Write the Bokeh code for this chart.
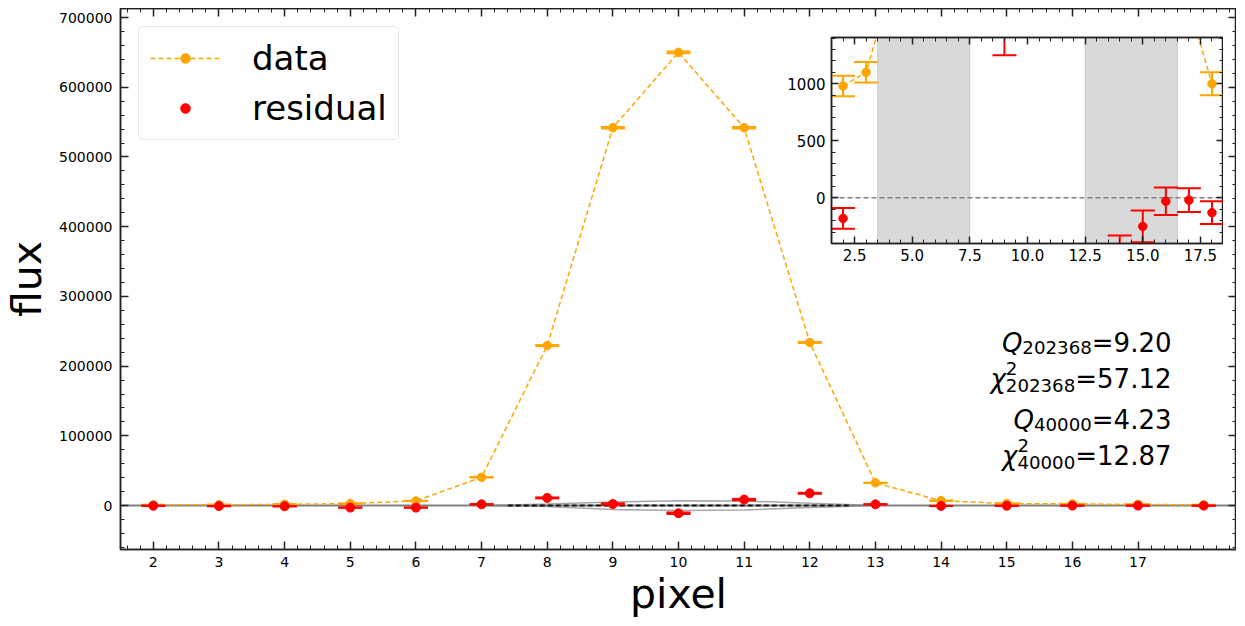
import numpy as np
from bokeh.plotting import figure
from bokeh.layouts import column
from bokeh.models import (Range1d, LinearAxis, FixedTicker, SingleIntervalTicker,
                          BasicTickFormatter, PrintfTickFormatter, CustomJSTickFormatter,
                          Span, BoxAnnotation, Legend, LegendItem, Label,
                          ColumnDataSource)
from bokeh.embed import file_html
from bokeh.resources import INLINE

# ---------------- data ----------------
pixel = [2, 3, 4, 5, 6, 7, 8, 9, 10, 11, 12, 13, 14, 15, 16, 17, 18]
flux = [980, 1100, 1800, 2900, 6700, 40600, 229500, 542000, 650000,
        542000, 234000, 32600, 7000, 2900, 2400, 1700, 1000]
flux_err = [90, 90, 100, 120, 150, 300, 700, 1000, 1200,
            1000, 700, 200, 150, 140, 120, 105, 100]
resid = [-180, -700, -1000, -2900, -2900, 1800, 11000, 2250, -11000,
         8600, 17600, 1800, -480, -250, -30, -20, -130]
resid_err = flux_err

env_x = [7, 8, 9, 10, 11, 12, 13]
env_hi = [0, 2200, 5300, 7000, 6600, 3200, 0]
env_lo = [0, -1500, -5800, -7000, -6200, -2900, 0]
model_x = [7.4, 12.6]
model_y = [0, 0]

x_major_ticks = [2, 3, 4, 5, 6, 7, 8, 9, 10, 11, 12, 13, 14, 15, 16, 17]
masked_lo = [3.5, 12.5]
masked_hi = [7.5, 16.5]

stat_sym = ["Q", "\u03c7", "Q", "\u03c7"]
stat_sup = ["", "2", "", "2"]
stat_sub = ["202368", "202368", "40000", "40000"]
stat_val = ["9.20", "57.12", "4.23", "12.87"]

# ---------------- style ----------------
FONT = "DejaVu Sans"
ORANGE = "#FFA500"
RED = "#FF0000"
DARK = "#222222"
RPAD = 7          # space taken by the label-less right axis
W, H = 1229 + RPAD, 612
LB = 114          # shared left border
IW, IH = 114 + 391 + RPAD, 5 + 206 + 22   # inset outer size
INSET_LEFT = 711  # offset of inset figure inside layout
INSET_TOP = 24
PAGE_TOP = 8


def style_axis(ax, major_in, minor_in, fs):
    ax.major_tick_in = major_in
    ax.major_tick_out = 0
    ax.minor_tick_in = minor_in
    ax.minor_tick_out = 0
    ax.axis_line_color = DARK
    ax.axis_line_width = 1.5
    ax.major_tick_line_color = DARK
    ax.major_tick_line_width = 1.5
    ax.minor_tick_line_color = DARK
    ax.minor_tick_line_width = 1
    ax.major_label_text_font = FONT
    ax.major_label_text_font_size = fs
    ax.major_label_text_color = "black"


def hidden_axis(ticker):
    return LinearAxis(ticker=ticker,
                      formatter=CustomJSTickFormatter(code="return ''"),
                      major_label_standoff=0,
                      major_label_text_font_size="0px")


def errorbars(fig, x, y, err, color, size):
    y = np.asarray(y, float)
    e = np.asarray(err, float)
    src = ColumnDataSource(dict(x=x, y=y, lo=y - e, hi=y + e))
    fig.segment(x0="x", y0="lo", x1="x", y1="hi", line_color=color,
                line_width=2, source=src)
    fig.scatter(x="x", y="lo", marker="dash", size=24, line_color=color,
                line_width=2, source=src)
    fig.scatter(x="x", y="hi", marker="dash", size=24, line_color=color,
                line_width=2, source=src)
    return fig.scatter(x="x", y="y", marker="circle", size=size,
                       fill_color=color, line_color=color, source=src)


# ---------------- main figure ----------------
p = figure(width=W, height=H,
           x_range=Range1d(1.5, 18.5), y_range=Range1d(-63000, 713000),
           output_backend="svg", toolbar_location=None,
           min_border_left=LB, min_border_right=0, min_border_top=0,
           min_border_bottom=71)
p.xgrid.visible = False
p.ygrid.visible = False
p.outline_line_color = DARK
p.outline_line_width = 1.5

x_minor = [round(v, 1) for v in np.arange(1.6, 18.45, 0.2)]
xt = FixedTicker(ticks=x_major_ticks, minor_ticks=x_minor)
yt = SingleIntervalTicker(interval=100000, num_minor_ticks=5)

xb = p.below[0]
yl = p.left[0]
xb.ticker = xt
yl.ticker = yt
yl.formatter = BasicTickFormatter(use_scientific=False)
top_ax = hidden_axis(xt)
right_ax = hidden_axis(yt)
p.add_layout(top_ax, "above")
p.add_layout(right_ax, "right")
for ax in (xb, yl, top_ax, right_ax):
    style_axis(ax, 8, 4, "14px")
top_ax.major_label_text_font_size = "0px"
right_ax.major_label_text_font_size = "0px"

xb.major_label_standoff = 7
yl.major_label_standoff = 8
xb.axis_label = "pixel"
yl.axis_label = "flux"
for ax in (xb, yl):
    ax.axis_label_text_font = FONT
    ax.axis_label_text_font_size = "41px"
    ax.axis_label_text_font_style = "normal"
    ax.axis_label_text_color = "black"
xb.axis_label_standoff = 0
yl.axis_label_standoff = 5

p.add_layout(Span(location=0, dimension="width", line_color="gray",
                  line_width=2, level="underlay"))
p.line(env_x, env_hi, line_color="gray", line_width=1.5, line_alpha=0.7)
p.line(env_x, env_lo, line_color="gray", line_width=1.5, line_alpha=0.7)
p.line(model_x, model_y, line_color="black", line_width=2, line_alpha=0.85,
       line_dash="5 3")

data_line = p.line(pixel, flux, line_color=ORANGE, line_width=1.5,
                   line_dash="5 3")
data_pts = errorbars(p, pixel, flux, flux_err, ORANGE, 8.5)
res_pts = errorbars(p, pixel, resid, resid_err, RED, 9)

legend = Legend(items=[LegendItem(label="data", renderers=[data_line, data_pts]),
                       LegendItem(label="residual", renderers=[res_pts])],
                location="top_left", margin=18, padding=11, spacing=10,
                glyph_width=70, glyph_height=24, label_height=40,
                label_standoff=32, label_text_font=FONT,
                label_text_font_size="34px", label_text_color="black",
                border_line_color="#cccccc", border_line_width=1,
                background_fill_alpha=0.8)
if "border_radius" in Legend.properties():
    legend.border_radius = 5
p.add_layout(legend)

# statistics text (right aligned, mathtext-like pieces)
adv = {d: 0.63623 for d in "0123456789"}
adv.update({"=": 0.83789, ".": 0.31787})


def tw(s, fs):
    return sum(adv[c] for c in s) * fs


FS, SFS = 26, 18.2
R = 1051
baselines = [207, 171, 130, 94]
for sym, sup, sub, val, yb in zip(stat_sym, stat_sup, stat_sub, stat_val, baselines):
    vtxt = "=" + val
    common = dict(x_units="screen", y_units="screen", text_font=FONT,
                  text_color="black", text_baseline="alphabetic")
    p.add_layout(Label(x=R, y=yb, text=vtxt, text_align="right",
                       text_font_size=f"{FS}px", **common))
    xs = R - tw(vtxt, FS) - tw(sub, SFS)
    drop = 7 if sup else 5
    p.add_layout(Label(x=xs, y=yb - drop, text=sub, text_align="left",
                       text_font_size=f"{SFS}px", **common))
    if sup:
        p.add_layout(Label(x=xs, y=yb + 10, text=sup, text_align="left",
                           text_font_size=f"{SFS}px", **common))
    p.add_layout(Label(x=xs, y=yb, text=sym, text_align="right",
                       text_font_style="italic", text_font_size=f"{FS}px",
                       **common))

# ---------------- inset ----------------
ins = figure(width=IW, height=IH,
             x_range=Range1d(1.5, 18.5), y_range=Range1d(-400, 1405),
             output_backend="svg", toolbar_location=None,
             min_border_left=LB, min_border_right=0, min_border_top=5,
             min_border_bottom=22, border_fill_color=None,
             background_fill_color="white")
ins.xgrid.visible = False
ins.ygrid.visible = False
ins.outline_line_color = DARK
ins.outline_line_width = 1.5

ixt = SingleIntervalTicker(interval=2.5, num_minor_ticks=5)
iyt = SingleIntervalTicker(interval=500, num_minor_ticks=5)
ixb = ins.below[0]
iyl = ins.left[0]
ixb.ticker = ixt
iyl.ticker = iyt
ixb.formatter = PrintfTickFormatter(format="%.1f")
itop = hidden_axis(ixt)
iright = hidden_axis(iyt)
ins.add_layout(itop, "above")
ins.add_layout(iright, "right")
for ax in (ixb, iyl, itop, iright):
    style_axis(ax, 7, 4, "15px")
itop.major_label_text_font_size = "0px"
iright.major_label_text_font_size = "0px"
ixb.major_label_standoff = 5
iyl.major_label_standoff = 6

for lo, hi in zip(masked_lo, masked_hi):
    ins.add_layout(BoxAnnotation(left=lo, right=hi, fill_color="gray",
                                 fill_alpha=0.3, line_color="gray",
                                 line_alpha=0.3, line_width=1,
                                 level="underlay"))
ins.add_layout(Span(location=0, dimension="width", line_color="gray",
                    line_width=1.5, line_dash="5 3", level="underlay"))
ins.line(pixel, flux, line_color=ORANGE, line_width=1.5, line_dash="5 3")
errorbars(ins, pixel, flux, flux_err, ORANGE, 8.5)
errorbars(ins, pixel, resid, resid_err, RED, 8.5)

# inset first (raised above and shifted visually), main figure pulled back
# up underneath it; relative offsets avoid margin collapsing with the body
ins.styles = {"position": "relative", "top": f"{PAGE_TOP + INSET_TOP}px",
              "left": f"{INSET_LEFT}px", "z-index": "2"}
p.styles = {"margin-top": f"-{IH}px", "position": "relative",
            "top": f"{PAGE_TOP}px", "z-index": "1"}

layout = column(ins, p)

open("out.html", "w").write(file_html(layout, INLINE))
